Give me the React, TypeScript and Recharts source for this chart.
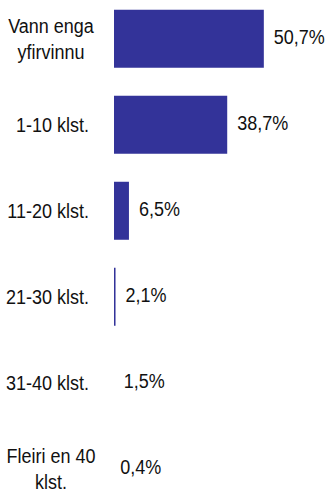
import React from 'react';
import { BarChart, Bar, XAxis, YAxis, LabelList } from 'recharts';

const categories = ['Vann enga\nyfirvinnu', '1-10 klst.', '11-20 klst.', '21-30 klst.', '31-40 klst.', 'Fleiri en 40\nklst.'];
const shares = [50.7, 38.7, 6.5, 2.1, 1.5, 0.4];
const shareLabels = ['50,7%', '38,7%', '6,5%', '2,1%', '1,5%', '0,4%'];

const data = categories.map((name, i) => ({ name, value: shares[i], label: shareLabels[i] }));

const FONT = '"Liberation Sans", Arial, sans-serif';
// the source text is a bit taller than normal Arial
const STRETCH = 1.14;

const CategoryTick = (props: any) => {
  const { x, y, payload } = props;
  const lines: string[] = String(payload.value).split('\n');
  const multi = lines.length > 1;
  const tx = multi ? 51 : x;
  return (
    <g transform={`translate(${tx},${y}) scale(1,${STRETCH})`}>
      <text x={0} y={0} textAnchor={multi ? 'middle' : 'end'} fill="#111" fontSize={18} fontFamily={FONT}>
        {lines.map((line, i) => (
          <tspan key={i} x={0} dy={i === 0 ? `${0.355 - ((lines.length - 1) / 2) * 1.27}em` : '1.27em'}>
            {line}
          </tspan>
        ))}
      </text>
    </g>
  );
};

const ValueLabel = (props: any) => {
  const { x, y, width, height, index } = props;
  const tx = Number(x) + Number(width) + 10;
  const ty = Number(y) + Number(height) / 2 - 2;
  return (
    <g transform={`translate(${tx},${ty}) scale(1,${STRETCH})`}>
      <text x={0} y={0} dy="0.355em" fill="#111" fontSize={18} fontFamily={FONT}>
        {shareLabels[index]}
      </text>
    </g>
  );
};

export default function App() {
  return (
    <div style={{ position: 'absolute', left: 0, top: 0, width: 327, height: 493, overflow: 'hidden', background: '#fff' }}>
      <BarChart
        width={327}
        height={493}
        data={data}
        layout="vertical"
        margin={{ top: -4, right: 0, bottom: -19, left: 0 }}
        barCategoryGap="16%"
      >
        <XAxis type="number" hide domain={[1.6, 71.4]} allowDataOverflow />
        <YAxis
          type="category"
          dataKey="name"
          width={114}
          axisLine={false}
          tickLine={false}
          tickMargin={19}
          tick={<CategoryTick />}
          interval={0}
        />
        <Bar dataKey="value" fill="#333399" isAnimationActive={false}>
          <LabelList dataKey="value" content={<ValueLabel />} />
        </Bar>
      </BarChart>
    </div>
  );
}
